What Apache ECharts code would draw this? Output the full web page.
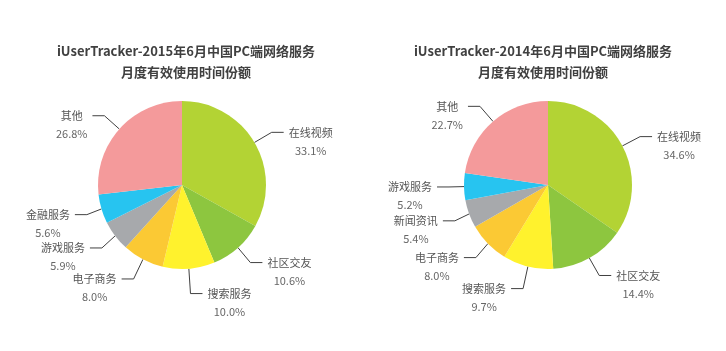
<!DOCTYPE html>
<html>
<head>
<meta charset="utf-8">
<script src="https://cdn.jsdelivr.net/npm/echarts@6/dist/echarts.min.js"></script>
<style>
  html, body { margin: 0; padding: 0; background: #fff; }
  #pie { width: 726px; height: 351px; }
</style>
</head>
<body>
<div id="pie"></div>
<script>
(function () {
  var titles2015 = "iUserTracker-2015年6月中国PC端网络服务\n月度有效使用时间份额";
  var titles2014 = "iUserTracker-2014年6月中国PC端网络服务\n月度有效使用时间份额";

  var names2015 = ["在线视频", "社区交友", "搜索服务", "电子商务", "游戏服务", "金融服务", "其他"];
  var values2015 = [33.1, 10.6, 10.0, 8.0, 5.9, 5.6, 26.8];

  var names2014 = ["在线视频", "社区交友", "搜索服务", "电子商务", "新闻资讯", "游戏服务", "其他"];
  var values2014 = [34.6, 14.4, 9.7, 8.0, 5.4, 5.2, 22.7];

  var colors = ["#b3d334", "#8dc63f", "#fff22d", "#fbc934", "#a7a9ac", "#27c4f0", "#f49a9b"];

  var myChart = echarts.init(document.getElementById("pie"));

  function toData(names, values) {
    return names.map(function (n, i) {
      return { name: n, value: values[i], itemStyle: { color: colors[i] } };
    });
  }

  function pieSeries(cx, names, values) {
    return {
      type: "pie",
      center: [cx, 185],
      radius: 84,
      startAngle: 90,
      data: toData(names, values),
      label: {
        show: true,
        padding: [18, 0, 0, 0],
        formatter: function (p) {
          return "{n|" + p.name + "}\n{p|" + p.value.toFixed(1) + "%}";
        },
        rich: {
          n: { fontSize: 11, color: "#555", lineHeight: 18, align: "center", fontFamily: "Noto Sans CJK SC" },
          p: { fontSize: 11, color: "#666", lineHeight: 18, align: "center", fontFamily: "Noto Sans CJK SC" }
        }
      },
      labelLine: {
        show: true,
        length: 20,
        length2: 12,
        lineStyle: { color: "#404040", width: 1 }
      },
      emphasis: { disabled: true }
    };
  }

  var titleStyle = {
    fontSize: 13,
    fontWeight: "bold",
    color: "#404040",
    lineHeight: 21,
    fontFamily: "Noto Sans CJK SC"
  };

  var option = {
    backgroundColor: "#fff",
    animation: false,
    title: [
      { text: titles2015, left: 186, top: 41, padding: 0, textAlign: "center", textStyle: titleStyle },
      { text: titles2014, left: 543, top: 41, padding: 0, textAlign: "center", textStyle: titleStyle }
    ],
    series: [
      pieSeries(182, names2015, values2015),
      pieSeries(548, names2014, values2014)
    ]
  };

  myChart.setOption(option);
})();
</script>
</body>
</html>
